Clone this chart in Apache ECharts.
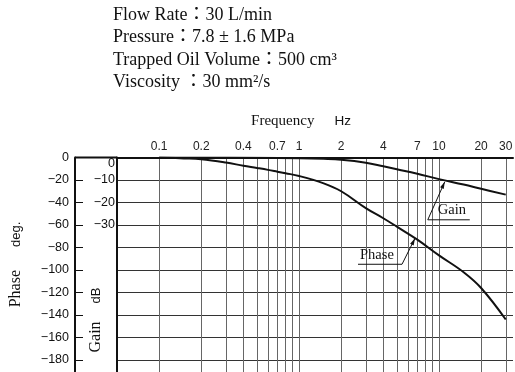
<!DOCTYPE html>
<html><head><meta charset="utf-8">
<script src="https://cdn.jsdelivr.net/npm/echarts@6/dist/echarts.min.js"></script>
<style>html,body{margin:0;padding:0;background:#fff}#c{width:515px;height:372px}</style>
</head><body><div id="c"></div>
<script>
// ---- data ----
const headerLines = ['Flow Rate：30 L/min', 'Pressure：7.8 ± 1.6 MPa', 'Trapped Oil Volume：500 cm³', 'Viscosity ：30 mm²/s'];
const freqLabels = [0.1, 0.2, 0.4, 0.7, 1, 2, 4, 7, 10, 20, 30];
const freqGrid = [0.1, 0.2, 0.3, 0.4, 0.5, 0.6, 0.7, 0.8, 0.9, 1, 2, 3, 4, 5, 6, 7, 8, 9, 10, 20, 30];
const freqRange = [0.05, 33.8];
const phaseRange = [-200, 0];
const gainRange = [-100, 0];
const gainLabelMin = -30;
const gainFreq = [0.1, 0.2, 0.5, 1, 1.5, 2, 3, 4, 5, 7, 10, 15, 20, 30];
const gainDb = [0, 0, -0.1, -0.3, -0.6, -1.0, -2.3, -3.9, -5.2, -7.2, -9.6, -12.0, -13.9, -16.5];
const phaseFreq = [0.1, 0.15, 0.2, 0.3, 0.4, 0.5, 0.6, 0.7, 0.8, 1, 1.5, 2, 3, 4, 5, 7, 10, 15, 20, 30];
const phaseDeg = [0, -0.8, -1.6, -4.5, -7.3, -9.3, -11, -12.6, -14, -16.4, -23, -30, -45, -54, -61.5, -73, -87, -102, -116, -144];
const gainNote = { text: 'Gain', freq: 11, value: -10.8 };
const phaseNote = { text: 'Phase', freq: 6.74, value: -71.8 };

// ---- chart ----
const lg = v => Math.log10(v);
const minus = v => (v < 0 ? '\u2212' + Math.abs(v) : String(v));
const SERIF = "'Liberation Serif', 'Noto Sans CJK JP', serif";
const SANS = "'Liberation Sans', Arial, sans-serif";

const chart = echarts.init(document.getElementById('c'), null, { renderer: 'canvas' });
const option = {
  animation: false,
  backgroundColor: '#fff',
  title: {
    text: headerLines.join('\n'),
    left: 113, top: 4, padding: 0,
    textStyle: { fontFamily: SERIF, fontSize: 18, fontWeight: 'normal', color: '#111', lineHeight: 22.5 }
  },
  grid: { left: 117, right: 2, top: 157.5, height: 225, containLabel: false, outerBoundsMode: 'none' },
  xAxis: {
    type: 'value', position: 'top',
    min: lg(freqRange[0]), max: lg(freqRange[1]),
    name: '{f|Frequency}{g|}{h|Hz}', nameLocation: 'middle', nameGap: 29, nameMoveOverlap: false,
    nameTextStyle: {
      padding: [0, 28, 0, 0],
      rich: {
        f: { fontFamily: SERIF, fontSize: 15, color: '#111' },
        g: { width: 20 },
        h: { fontFamily: SANS, fontSize: 13.5, color: '#111' }
      }
    },
    axisLine: { show: true, onZero: false, lineStyle: { color: '#111', width: 2 } },
    axisTick: { show: false, customValues: freqGrid.map(lg) },
    axisLabel: {
      customValues: freqLabels.map(lg), margin: 5,
      fontFamily: SANS, fontSize: 12, color: '#222',
      formatter: v => String(Math.round(Math.pow(10, v) * 10) / 10)
    },
    splitLine: { show: true, lineStyle: { color: '#666', width: 1 } }
  },
  yAxis: [
    {
      type: 'value', position: 'left', offset: 42,
      min: phaseRange[0], max: phaseRange[1], interval: 20,
      name: '{s|Phase}{g|}{d|deg.}', nameLocation: 'middle', nameRotate: 90, nameGap: 51, nameMoveOverlap: false,
      nameTextStyle: {
        padding: [0, 0, 0, 11],
        rich: {
          s: { fontFamily: SERIF, fontSize: 16, color: '#111' },
          g: { width: 23 },
          d: { fontFamily: SANS, fontSize: 13, color: '#111' }
        }
      },
      axisLine: { show: true, onZero: false, lineStyle: { color: '#111', width: 2 } },
      axisTick: { show: true, inside: true, length: 8, lineStyle: { color: '#111', width: 1 } },
      axisLabel: { margin: 6, fontFamily: SANS, fontSize: 12.5, color: '#111', formatter: minus },
      splitLine: { show: true, lineStyle: { color: '#333', width: 1 } }
    },
    {
      type: 'value', position: 'left', offset: 0,
      min: gainRange[0], max: gainRange[1], interval: 10,
      name: '{s|Gain}{g|}{d|dB}', nameLocation: 'middle', nameRotate: 90, nameGap: 13, nameMoveOverlap: false,
      nameTextStyle: {
        padding: [0, 100, 0, 0],
        rich: {
          s: { fontFamily: SERIF, fontSize: 16, color: '#111' },
          g: { width: 18 },
          d: { fontFamily: SANS, fontSize: 13, color: '#111' }
        }
      },
      axisLine: { show: true, onZero: false, lineStyle: { color: '#111', width: 2 } },
      axisTick: { show: false },
      axisLabel: {
        margin: 2, fontFamily: SANS, fontSize: 12.5, color: '#111',
        verticalAlignMaxLabel: 'top',
        formatter: v => (v >= gainLabelMin ? minus(v) : '')
      },
      splitLine: { show: false }
    }
  ],
  series: [
    {
      name: 'Gain', type: 'line', yAxisIndex: 1, smooth: 0.4, symbol: 'none',
      lineStyle: { color: '#111', width: 2 },
      data: gainFreq.map((f, i) => [lg(f), gainDb[i]])
    },
    {
      name: 'Phase', type: 'line', yAxisIndex: 0, smooth: 0.4, symbol: 'none',
      lineStyle: { color: '#111', width: 2 },
      data: phaseFreq.map((f, i) => [lg(f), phaseDeg[i]])
    }
  ]
};
chart.setOption(option);

// ---- annotations (anchored in data coordinates) ----
function arrowHead(tip, tail, len, half) {
  const dx = tip[0] - tail[0], dy = tip[1] - tail[1];
  const d = Math.hypot(dx, dy), ux = dx / d, uy = dy / d;
  const bx = tip[0] - ux * len, by = tip[1] - uy * len;
  return [[tip[0], tip[1]], [bx - uy * half, by + ux * half], [bx + uy * half, by - ux * half]];
}
const gTip = chart.convertToPixel({ xAxisIndex: 0, yAxisIndex: 1 }, [lg(gainNote.freq), gainNote.value]);
const pTip = chart.convertToPixel({ xAxisIndex: 0, yAxisIndex: 0 }, [lg(phaseNote.freq), phaseNote.value]);
const gTail = [gTip[0] - 17, gTip[1] + 38];
const pTail = [pTip[0] - 13, pTip[1] + 26];
const lineStyle = { stroke: '#111', lineWidth: 1 };
const textFont = { fontFamily: SERIF, fontSize: 14.5, fill: '#111' };
chart.setOption({
  graphic: [
    { type: 'line', shape: { x1: 75, y1: 157.5, x2: 117, y2: 157.5 }, style: { stroke: '#111', lineWidth: 2 } },
    { type: 'line', shape: { x1: gTail[0], y1: gTail[1], x2: gTip[0], y2: gTip[1] }, style: lineStyle },
    { type: 'line', shape: { x1: gTail[0], y1: gTail[1], x2: gTail[0] + 42, y2: gTail[1] }, style: lineStyle },
    { type: 'polygon', shape: { points: arrowHead(gTip, gTail, 7, 2) }, style: { fill: '#111' } },
    { type: 'text', x: gTail[0] + 10, y: gTail[1] - 2, style: Object.assign({ text: gainNote.text, textVerticalAlign: 'bottom' }, textFont) },
    { type: 'line', shape: { x1: pTail[0], y1: pTail[1], x2: pTip[0], y2: pTip[1] }, style: lineStyle },
    { type: 'line', shape: { x1: pTail[0] - 44, y1: pTail[1], x2: pTail[0], y2: pTail[1] }, style: lineStyle },
    { type: 'polygon', shape: { points: arrowHead(pTip, pTail, 7, 2) }, style: { fill: '#111' } },
    { type: 'text', x: pTail[0] - 42, y: pTail[1] - 2, style: Object.assign({ text: phaseNote.text, textVerticalAlign: 'bottom' }, textFont) }
  ]
});
</script>
</body></html>
